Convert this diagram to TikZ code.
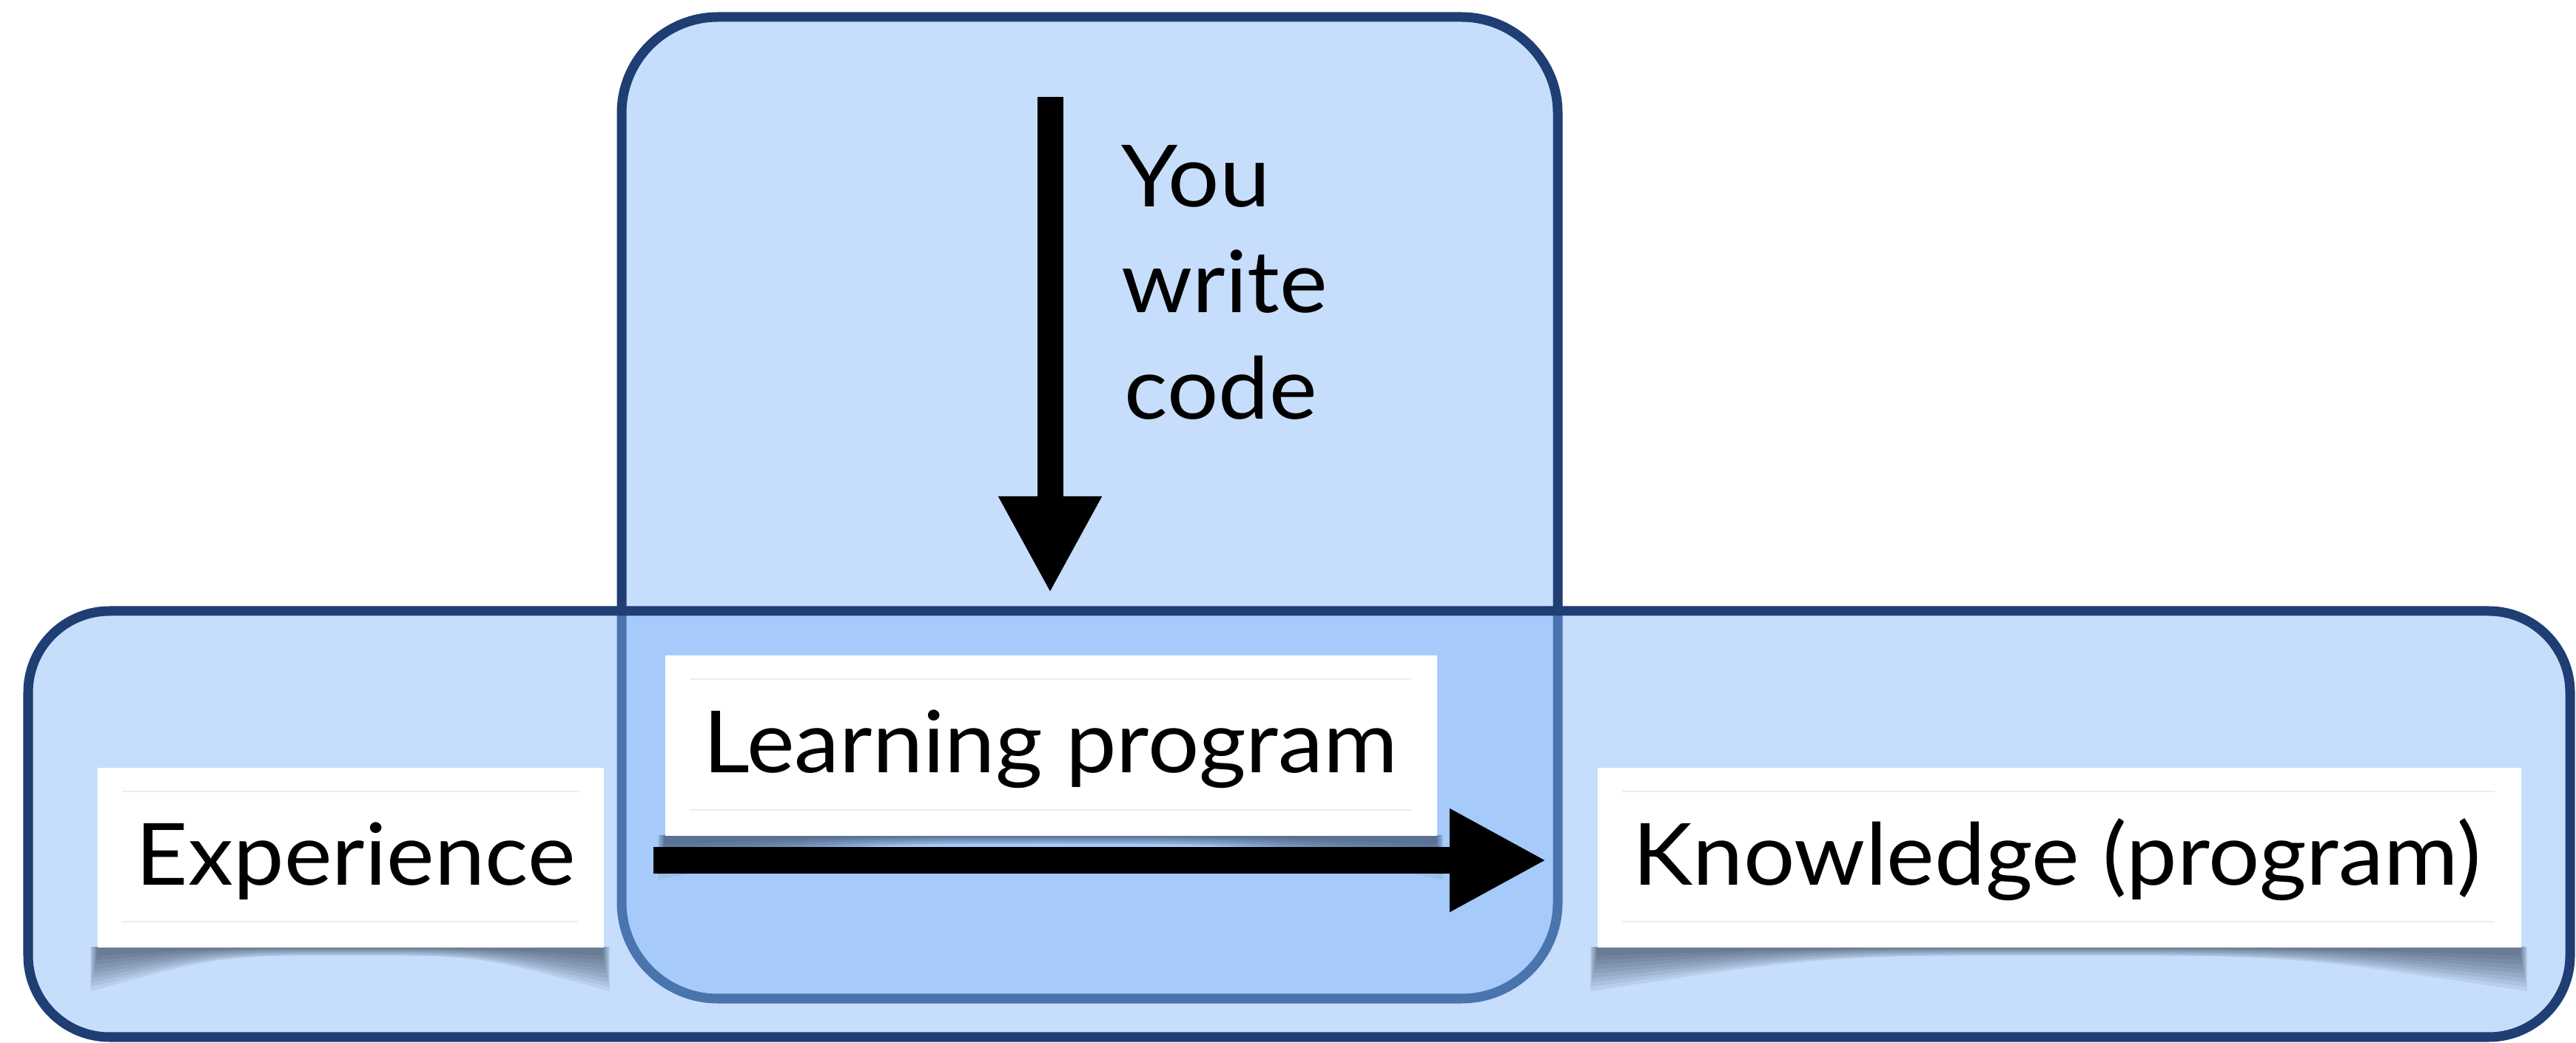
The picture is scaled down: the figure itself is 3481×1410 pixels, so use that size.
\documentclass[tikz,border=0pt]{standalone}
\usepackage{fontspec}
\setmainfont{Lato}[FakeStretch=1.055]
\usetikzlibrary{arrows.meta}
\definecolor{boxline}{RGB}{31,62,115}
\definecolor{boxfill}{RGB}{198,222,252}
\definecolor{overfill}{RGB}{128,182,248}
\definecolor{shadowc}{RGB}{20,30,50}
\newcommand\lblshadow[3]{%
  \foreach \d/\c/\o in {60/12/9,54/11/8,48/10/7,42/8/6,36/7/4,30/5/3,24/4/2,18/3/1,12/2/0}{%
    \pgfmathsetmacro\xc{(#1+#2)/2}%
    \pgfmathsetmacro\xa{#1-\o}%
    \pgfmathsetmacro\xb{#2+\o}%
    \fill[shadowc,opacity=0.075] (\xa,#3) -- (\xb,#3) -- (\xb,#3+\d)
      .. controls ({(\xb+\xc)/2},{#3+\c}) .. (\xc,#3+\c)
      .. controls ({(\xa+\xc)/2},{#3+\c}) .. (\xa,#3+\d) -- cycle;
  }}
\begin{document}
\begin{tikzpicture}[x=0.01cm,y=-0.01cm,
  frame/.style={draw=boxline,line width=0.13cm},
  labelbox/.style={draw=none,fill=white,inner sep=0,anchor=north west},
  labeltext/.style={font=\fontsize{33}{40}\selectfont,inner sep=0,anchor=base west},
  fatarrow/.style={line width=0.35cm,-{Triangle[length=1.31cm,width=1.30cm]}},
  faint/.style={draw=black!7,line width=0.02cm}]
\useasboundingbox (0,0) rectangle (3481,1410);
% frames
\path[frame,fill=boxfill,rounded corners=1.3cm] (840,23) rectangle (2105,1350);
\path[frame,fill=overfill,fill opacity=0.45,rounded corners=1.1cm] (38,826) rectangle (3473,1402);
% shadows
\lblshadow{131}{815}{1280}
\lblshadow{898}{1941}{1129}
\lblshadow{2158}{3406}{1280}
% label boxes
\node[labelbox,minimum width=6.84cm,minimum height=2.43cm] (exp) at (131,1037) {};
\node[labelbox,minimum width=10.43cm,minimum height=2.44cm] (lp) at (898,885) {};
\node[labelbox,minimum width=12.48cm,minimum height=2.43cm] (kn) at (2158,1037) {};
\draw[faint] (165,1070) -- (782,1070) (165,1246) -- (782,1246);
\draw[faint] (932,918) -- (1907,918) (932,1095) -- (1907,1095);
\draw[faint] (2192,1070) -- (3371,1070) (2192,1246) -- (3371,1246);
% texts
\node[labeltext] (expt) at (183,1197) {Experience};
\node[labeltext] (lpt) at (950,1045) {Learning program};
\node[labeltext] (knt) at (2206,1197) {Knowledge (program)};
\node[labeltext] (you) at (1515,280) {You};
\node[labeltext] (write) at (1515,423) {write};
\node[labeltext] (code) at (1519,567) {code};
% arrows
\coordinate (hs) at (883,1163);
\coordinate (he) at (2090,1163);
\coordinate (vs) at (1419,131);
\coordinate (ve) at (1419,802);
\draw[fatarrow] (hs) -- (he);
\draw[fatarrow] (vs) -- (ve);
\end{tikzpicture}
\end{document}
